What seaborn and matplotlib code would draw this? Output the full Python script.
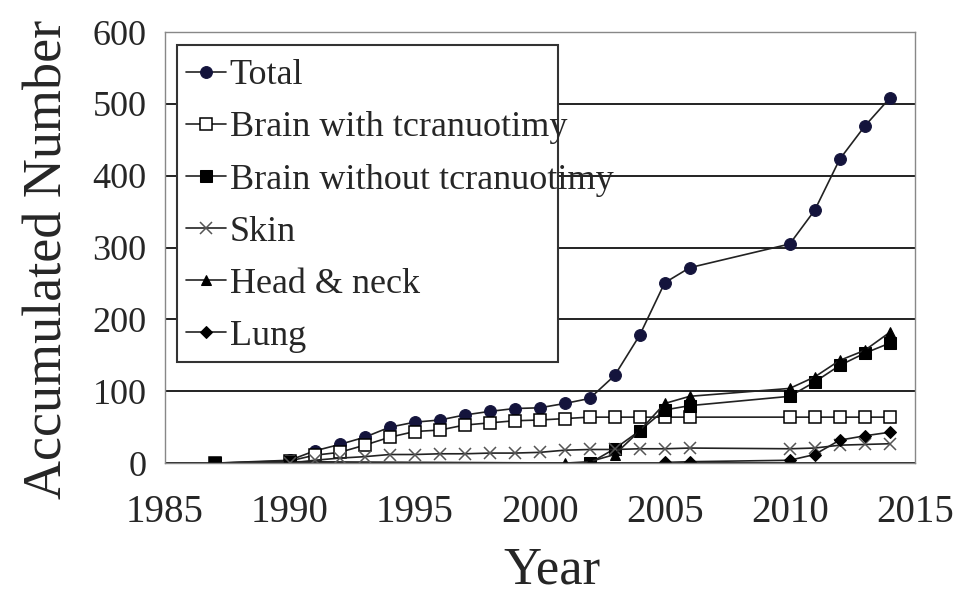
import matplotlib
matplotlib.use("Agg")
import matplotlib.pyplot as plt
import numpy as np
import pandas as pd
import seaborn as sns
from matplotlib.patches import Rectangle

total_years = [1987, 1990, 1991, 1992, 1993, 1994, 1995, 1996, 1997, 1998, 1999, 2000,
               2001, 2002, 2003, 2004, 2005, 2006, 2010, 2011, 2012, 2013, 2014]
total_values = [0, 4, 17, 26, 36, 50, 57, 60, 67, 72, 76, 77,
                83, 90, 122, 178, 251, 272, 305, 352, 423, 469, 508]

brain_with_years = total_years
brain_with_values = [0, 3, 11, 15, 25, 36, 44, 46, 53, 56, 59, 60,
                     62, 64, 64, 64, 64, 64, 64, 64, 64, 64, 64]

brain_without_years = [1987, 1990, 2002, 2003, 2004, 2005, 2006, 2010, 2011, 2012, 2013, 2014]
brain_without_values = [0, 2, 0, 20, 45, 74, 80, 93, 113, 136, 153, 167]

skin_years = [1990, 1991, 1992, 1993, 1994, 1995, 1996, 1997, 1998, 1999, 2000,
              2001, 2002, 2003, 2004, 2005, 2006, 2010, 2011, 2012, 2013, 2014]
skin_values = [0, 4, 7, 9, 12, 12, 13, 13, 14, 14, 15,
               18, 19, 19, 20, 20, 21, 20, 21, 25, 26, 27]

head_neck_years = [2001, 2002, 2003, 2004, 2005, 2006, 2010, 2011, 2012, 2013, 2014]
head_neck_values = [0, 2, 12, 45, 83, 93, 104, 120, 143, 157, 182]

lung_years = [2005, 2006, 2010, 2011, 2012, 2013, 2014]
lung_values = [1, 2, 4, 12, 32, 38, 43]

x_ticks = [1985, 1990, 1995, 2000, 2005, 2010, 2015]
y_ticks = [0, 100, 200, 300, 400, 500, 600]

sns.set_style("white")
plt.rcParams["font.family"] = ["Liberation Serif", "DejaVu Serif"]

fig = plt.figure(figsize=(9.68, 5.93), dpi=100)
ax = fig.add_axes([0.170, 0.219, 0.775, 0.727])

series = [
    ("Total", total_years, total_values,
     dict(marker="o", markersize=8.5, markerfacecolor="#14143c", markeredgecolor="#14143c")),
    ("Brain with tcranuotimy", brain_with_years, brain_with_values,
     dict(marker="s", markersize=8, markerfacecolor="white", markeredgecolor="black", markeredgewidth=1.1)),
    ("Brain without tcranuotimy", brain_without_years, brain_without_values,
     dict(marker="s", markersize=8, markerfacecolor="black", markeredgecolor="black")),
    ("Skin", skin_years, skin_values,
     dict(marker="x", markersize=9, markeredgecolor="#555555", markeredgewidth=1.1)),
    ("Head & neck", head_neck_years, head_neck_values,
     dict(marker="^", markersize=7.5, markerfacecolor="black", markeredgecolor="black")),
    ("Lung", lung_years, lung_values,
     dict(marker="D", markersize=6, markerfacecolor="black", markeredgecolor="black")),
]

for name, xs, ys, style in series:
    df = pd.DataFrame({"year": xs, "count": ys})
    sns.lineplot(data=df, x="year", y="count", ax=ax, color="#222222", linewidth=1.2,
                 estimator=None, label=name, **style)

ax.set_xlim(1985, 2015)
ax.set_ylim(0, 600)
ax.set_xticks(x_ticks)
ax.set_yticks(y_ticks)
ax.tick_params(axis="x", length=0, pad=22, labelsize=28)
ax.tick_params(axis="y", length=5, width=1, color="#555555", direction="out", pad=8, labelsize=26)
ax.yaxis.grid(True, color="#222222", linewidth=1.4)
ax.xaxis.grid(False)
ax.set_axisbelow(True)
for spine in ax.spines.values():
    spine.set_color("#888888")
    spine.set_linewidth(1.0)

ax.set_xlabel("Year", fontsize=38)
ax.set_ylabel("Accumulated Number", fontsize=39)
ax.xaxis.set_label_coords(0.516, -0.194)
ax.yaxis.set_label_coords(-0.121, 0.473)

# legend box is narrower than its longest label in the original
box = Rectangle((0.017, 0.234), 0.507, 0.736, transform=ax.transAxes,
                facecolor="white", edgecolor="#333333", linewidth=1.5, zorder=4)
ax.add_patch(box)

leg = ax.legend(loc="upper left", bbox_to_anchor=(0.017, 0.958), fontsize=26,
                frameon=False, handlelength=1.1, handletextpad=0.1, labelspacing=0.52,
                borderpad=0.25, borderaxespad=0)
leg.set_zorder(5)

fig.savefig("out.png", dpi=100)
